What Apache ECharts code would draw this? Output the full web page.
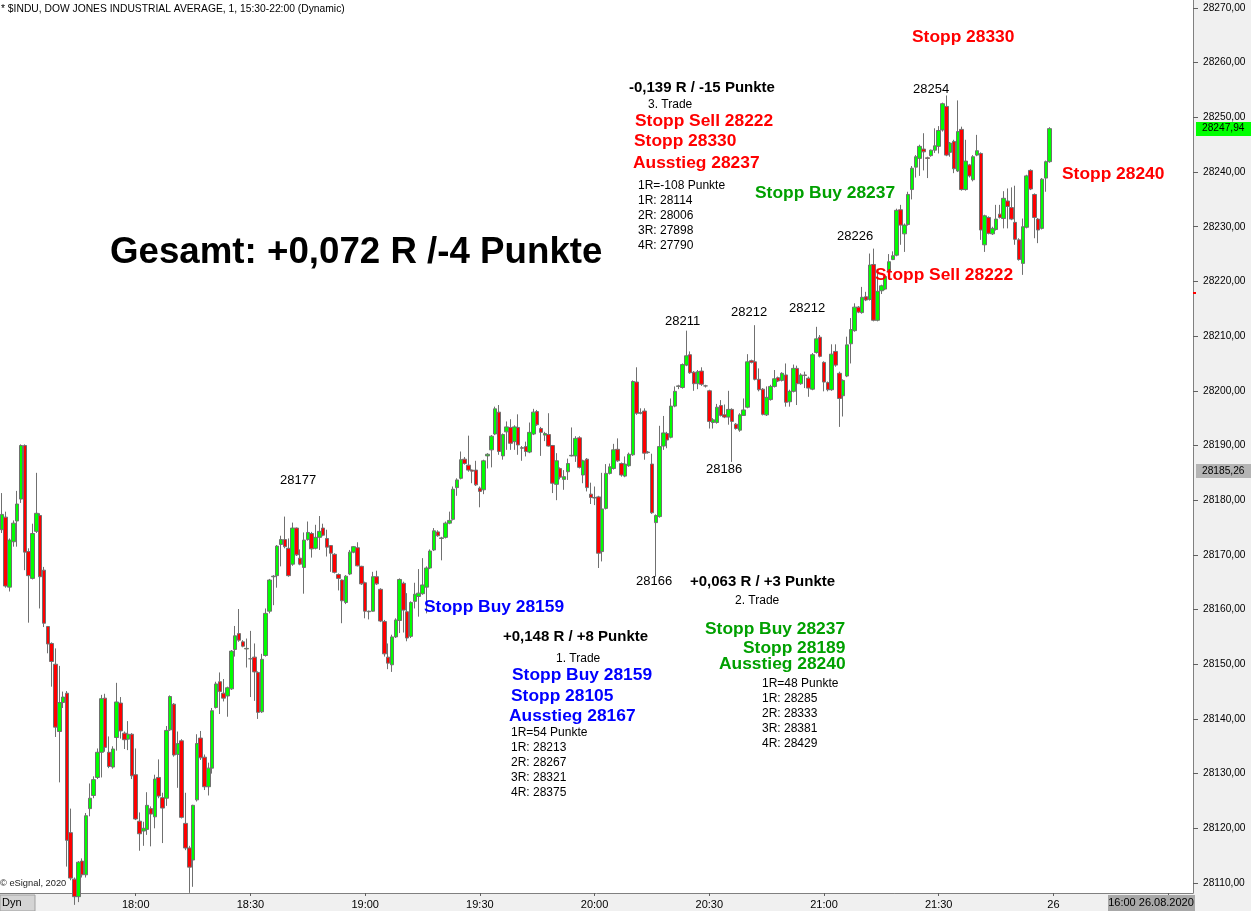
<!DOCTYPE html>
<html><head><meta charset="utf-8">
<script src="https://cdn.jsdelivr.net/npm/echarts@6/dist/echarts.min.js"></script>
<style>html,body{margin:0;padding:0;background:#f0f0f0}#c{width:1251px;height:911px}</style>
</head><body><div id="c"></div>
<script>
// ---- data ----
const startMinute = 17 * 60 + 25;   // first candle 17:25
const slotCount = 312;              // visible one-minute slots
// one-minute candles: [open, close, low, high]
const candles = [
[28174.6,28177.4,28174.0,28181.3],[28176.9,28164.3,28164.0,28177.9],[28164.1,28172.7,28163.3,28173.0],[28172.4,28175.8,28171.5,28176.3],
[28176.2,28179.3,28171.5,28181.7],[28180.2,28190.0,28179.5,28190.2],[28190.0,28170.5,28167.2,28190.2],[28170.6,28166.2,28157.6,28171.2],
[28165.7,28173.9,28165.5,28175.7],[28174.3,28177.6,28174.0,28185.0],[28177.2,28166.0,28160.2,28177.6],[28167.2,28157.5,28156.8,28167.8],
[28156.9,28153.7,28152.0,28157.0],[28153.8,28150.5,28145.9,28154.0],[28150.0,28138.5,28136.7,28152.9],[28137.7,28143.0,28128.4,28149.7],
[28143.0,28144.0,28142.0,28145.0],[28144.7,28117.8,28113.0,28145.1],[28119.2,28110.9,28110.5,28123.6],[28110.7,28107.5,28106.0,28111.0],
[28107.5,28113.8,28106.5,28114.0],[28114.0,28111.5,28111.0,28114.5],[28111.5,28122.3,28111.0,28122.8],[28123.6,28125.5,28122.2,28128.2],
[28126.0,28128.9,28125.5,28129.5],[28129.3,28133.9,28129.0,28134.6],[28133.9,28143.7,28129.3,28144.4],[28143.8,28134.8,28134.0,28144.6],
[28133.9,28131.3,28131.0,28136.8],[28131.2,28134.5,28130.9,28135.0],[28136.6,28143.1,28134.2,28146.6],[28142.9,28137.8,28136.4,28144.0],
[28137.4,28136.2,28134.5,28137.7],[28136.3,28137.2,28134.3,28139.6],[28137.2,28129.6,28129.0,28137.4],[28129.8,28121.7,28121.5,28134.6],
[28121.3,28119.0,28115.9,28122.9],[28119.5,28120.0,28116.8,28121.2],[28119.8,28124.2,28118.8,28126.6],[28123.6,28122.6,28116.7,28124.0],
[28122.1,28129.0,28120.0,28129.8],[28129.3,28125.9,28125.5,28132.6],[28125.6,28123.7,28117.3,28126.5],[28125.5,28137.9,28124.1,28138.7],
[28138.0,28144.1,28137.8,28144.3],[28142.7,28133.4,28133.1,28142.9],[28133.5,28135.5,28127.4,28137.7],[28136.0,28122.0,28121.8,28136.3],
[28120.9,28116.4,28116.0,28126.5],[28116.4,28112.9,28108.2,28116.8],[28114.2,28124.2,28109.3,28124.3],[28125.2,28135.5,28124.9,28137.2],
[28136.5,28132.9,28132.5,28137.8],[28133.0,28127.6,28127.0,28133.5],[28127.6,28131.0,28126.0,28132.0],[28131.0,28141.5,28130.0,28142.0],
[28142.1,28146.4,28141.9,28146.8],[28146.8,28145.0,28140.9,28148.5],[28144.7,28143.8,28143.2,28147.3],[28144.2,28145.7,28140.4,28145.9],
[28145.5,28152.4,28145.3,28152.6],[28152.7,28155.2,28151.4,28157.0],[28155.6,28154.4,28154.1,28160.1],[28154.1,28153.3,28153.1,28154.4],
[28152.8,28152.9,28149.4,28154.7],[28151.0,28151.0,28144.0,28156.1],[28151.3,28148.6,28143.3,28153.8],[28148.5,28141.2,28140.0,28148.7],
[28141.3,28150.9,28141.1,28151.9],[28151.6,28159.3,28151.4,28160.2],[28159.7,28165.4,28159.3,28165.6],[28166.0,28166.1,28160.8,28166.3],
[28166.2,28171.6,28164.0,28171.8],[28171.9,28172.8,28167.9,28173.5],[28172.8,28171.5,28171.2,28177.0],[28171.2,28166.2,28166.0,28173.0],
[28168.3,28174.9,28168.0,28175.9],[28174.9,28170.0,28169.8,28175.0],[28169.4,28168.3,28168.1,28171.0],[28167.7,28172.7,28162.9,28174.1],
[28172.8,28174.1,28172.6,28176.1],[28173.9,28171.1,28169.5,28174.2],[28171.2,28173.2,28171.0,28175.5],[28173.2,28174.3,28170.9,28177.1],
[28174.9,28173.6,28173.4,28175.7],[28173.0,28171.4,28169.7,28174.6],[28171.7,28170.3,28166.9,28171.8],[28170.1,28166.8,28166.6,28170.3],
[28166.4,28165.7,28163.5,28166.6],[28165.4,28161.6,28157.5,28165.5],[28161.3,28166.1,28161.0,28166.3],[28166.5,28170.5,28166.3,28170.9],
[28170.5,28171.5,28170.3,28171.6],[28171.3,28168.0,28167.9,28172.3],[28167.9,28164.7,28164.5,28168.0],[28164.9,28159.7,28158.4,28165.1],
[28159.6,28159.7,28158.2,28159.8],[28159.7,28166.0,28159.6,28166.9],[28166.0,28164.7,28164.5,28167.1],[28163.7,28157.9,28157.7,28163.9],
[28157.8,28151.9,28151.4,28158.1],[28151.3,28150.2,28149.1,28153.8],[28149.9,28155.0,28148.6,28155.4],[28155.0,28158.1,28154.8,28158.4],
[28158.0,28165.5,28155.7,28165.7],[28164.8,28159.9,28155.8,28165.1],[28159.6,28154.8,28154.2,28163.0],[28155.1,28161.3,28154.8,28161.5],
[28161.5,28162.8,28160.2,28164.9],[28162.4,28163.0,28158.7,28167.4],[28162.9,28164.5,28162.7,28169.4],[28164.1,28167.6,28159.3,28167.9],
[28167.6,28170.7,28167.4,28171.0],[28170.9,28174.4,28170.7,28174.9],[28174.2,28173.5,28173.3,28174.5],[28173.0,28173.1,28169.0,28173.3],
[28173.2,28175.8,28173.0,28176.1],[28175.8,28176.3,28175.6,28177.9],[28176.5,28182.0,28176.3,28182.5],[28182.3,28183.7,28180.8,28184.0],
[28184.0,28187.4,28183.8,28188.9],[28187.5,28186.7,28186.5,28187.9],[28186.4,28185.5,28185.2,28191.8],[28185.5,28185.3,28183.1,28185.6],
[28185.5,28182.8,28182.6,28187.2],[28182.2,28181.6,28178.7,28182.5],[28181.9,28187.2,28181.1,28187.4],[28188.1,28188.4,28185.8,28188.6],
[28189.2,28191.7,28186.0,28191.9],[28192.1,28196.7,28191.9,28197.1],[28196.1,28188.9,28188.3,28197.4],[28188.1,28192.0,28187.4,28192.2],
[28192.5,28193.4,28189.2,28194.4],[28193.3,28190.4,28189.2,28194.8],[28190.7,28193.4,28189.2,28193.7],[28193.3,28190.1,28188.3,28195.7],
[28189.6,28189.5,28187.2,28189.9],[28189.8,28188.9,28188.0,28190.7],[28188.8,28192.4,28188.6,28194.2],[28192.1,28196.1,28191.9,28196.7],
[28196.2,28193.8,28193.6,28196.5],[28193.1,28192.4,28188.1,28193.4],[28191.9,28192.2,28190.8,28192.5],[28192.0,28189.9,28189.8,28195.9],
[28190.0,28183.1,28181.3,28190.1],[28182.9,28187.2,28180.0,28188.6],[28185.8,28184.2,28183.8,28186.0],[28183.8,28184.3,28181.9,28185.5],
[28185.2,28186.7,28183.7,28187.6],[28188.1,28188.2,28188.0,28193.3],[28188.1,28191.3,28187.0,28191.7],[28191.4,28186.0,28185.8,28191.7],
[28184.6,28187.2,28183.1,28187.4],[28187.5,28182.3,28181.6,28187.7],[28181.1,28180.5,28179.3,28183.2],[28180.5,28180.4,28179.1,28182.5],
[28180.6,28170.3,28167.6,28180.8],[28170.6,28178.4,28168.8,28185.0],[28178.5,28184.9,28178.3,28186.6],[28184.9,28186.1,28184.7,28186.7],
[28185.8,28189.2,28185.6,28190.3],[28189.3,28187.2,28187.0,28191.3],[28186.7,28184.6,28184.3,28186.9],[28184.4,28186.6,28184.2,28188.0],
[28186.3,28188.4,28186.1,28188.7],[28188.3,28201.7,28188.1,28201.9],[28201.6,28195.9,28195.6,28204.3],[28195.9,28196.0,28195.7,28196.8],
[28196.3,28188.6,28187.4,28196.8],[28188.8,28188.7,28188.5,28189.0],[28186.6,28177.7,28177.5,28188.5],[28175.9,28177.2,28166.0,28177.4],
[28177.0,28189.8,28176.8,28193.6],[28189.9,28192.3,28189.2,28195.4],[28192.2,28191.0,28189.5,28192.5],[28191.5,28197.2,28191.3,28198.6],
[28197.2,28199.9,28197.0,28200.8],[28200.8,28200.9,28200.3,28201.1],[28200.6,28204.8,28200.4,28205.0],[28204.7,28206.4,28204.5,28211.0],
[28206.6,28203.3,28203.1,28207.2],[28203.4,28201.3,28200.0,28203.6],[28201.3,28203.5,28200.3,28203.8],[28203.6,28201.2,28200.9,28204.3],
[28200.9,28200.9,28200.6,28201.1],[28200.0,28194.4,28193.1,28200.2],[28194.2,28194.7,28193.1,28195.0],[28194.2,28197.0,28194.0,28197.6],
[28197.3,28195.5,28195.3,28198.3],[28195.6,28195.2,28195.0,28197.5],[28195.2,28196.6,28193.8,28200.0],[28196.6,28194.4,28187.0,28196.8],
[28193.9,28193.1,28192.9,28194.1],[28192.8,28195.6,28192.5,28195.9],[28195.5,28196.5,28195.4,28198.6],[28197.0,28205.3,28196.8,28206.7],
[28205.5,28205.2,28205.0,28205.7],[28205.3,28202.1,28201.9,28212.0],[28202.1,28200.2,28199.9,28204.1],[28200.3,28195.7,28195.5,28200.5],
[28195.6,28198.8,28195.4,28200.8],[28198.4,28200.8,28198.2,28201.1],[28200.8,28202.2,28200.6,28203.8],[28202.4,28201.8,28201.6,28202.6],
[28201.9,28203.2,28201.7,28203.4],[28202.9,28197.9,28197.1,28205.0],[28198.0,28199.9,28197.1,28200.2],[28199.9,28204.1,28199.7,28204.8],
[28204.1,28201.3,28197.4,28204.6],[28201.3,28202.9,28201.1,28203.2],[28202.9,28202.8,28200.5,28203.5],[28202.3,28200.5,28198.9,28202.6],
[28200.3,28206.6,28200.1,28206.9],[28207.0,28209.5,28206.8,28211.7],[28209.8,28206.3,28206.1,28210.2],[28205.2,28201.6,28199.9,28205.4],
[28201.5,28200.2,28199.9,28201.7],[28200.2,28206.7,28200.0,28208.5],[28207.2,28204.7,28204.4,28208.5],[28203.2,28198.6,28193.4,28203.5],
[28199.1,28201.9,28195.3,28202.1],[28202.7,28208.4,28202.5,28209.9],[28208.6,28211.2,28205.0,28213.3],[28211.0,28215.3,28210.8,28216.0],
[28215.3,28214.4,28214.2,28215.5],[28214.3,28217.1,28214.1,28219.0],[28217.2,28216.6,28216.4,28218.1],[28216.7,28223.0,28216.5,28225.1],
[28223.1,28212.9,28212.7,28226.0],[28212.9,28218.2,28212.7,28221.5],[28218.3,28219.2,28217.7,28219.4],[28218.6,28220.9,28218.4,28221.2],
[28221.8,28223.6,28220.9,28225.0],[28224.0,28224.7,28223.9,28225.5],[28224.8,28233.0,28224.6,28233.3],[28233.1,28230.3,28226.7,28234.0],
[28228.7,28230.3,28225.4,28230.6],[28230.4,28235.9,28230.2,28236.4],[28236.8,28240.7,28235.0,28241.1],[28240.9,28242.8,28239.0,28243.1],
[28242.5,28244.7,28239.3,28245.0],[28244.2,28243.7,28240.3,28247.1],[28242.6,28242.5,28238.9,28242.8],[28243.0,28244.0,28242.8,28244.1],
[28244.0,28244.8,28243.5,28248.0],[28244.7,28247.6,28243.4,28248.4],[28247.7,28252.5,28247.4,28252.7],[28252.0,28243.1,28242.9,28254.0],
[28243.6,28245.3,28242.8,28245.5],[28245.6,28240.6,28239.8,28245.9],[28240.2,28247.4,28240.0,28253.1],[28247.8,28236.8,28236.6,28248.3],
[28236.8,28242.0,28236.6,28245.9],[28241.3,28239.3,28239.0,28241.5],[28238.6,28242.8,28238.3,28243.1],[28243.1,28243.9,28242.9,28246.8],
[28243.4,28229.4,28227.6,28243.6],[28226.7,28232.0,28225.4,28232.2],[28231.7,28228.8,28228.6,28231.9],[28228.7,28229.7,28228.5,28230.0],
[28229.5,28231.4,28229.3,28234.0],[28232.3,28231.7,28231.5,28234.0],[28231.5,28235.2,28229.7,28236.5],[28234.7,28233.7,28229.7,28237.0],
[28233.5,28231.4,28231.2,28237.2],[28230.8,28227.7,28226.7,28237.5],[28227.6,28224.0,28223.8,28227.9],[28223.3,28230.0,28221.2,28231.5],
[28229.9,28239.3,28229.7,28239.5],[28240.3,28236.9,28236.7,28240.5],[28235.9,28231.7,28227.9,28236.1],[28231.4,28229.4,28227.0,28231.6],
[28229.7,28238.7,28229.5,28238.9],[28238.9,28241.9,28236.4,28242.1],[28241.9,28247.94,28241.7,28248.2]
];
const lastClose = 28247.94;
const refPrice = 28185.26;
const yMin = 28108.17;
const yMax = 28271.46;

const titleText = '* $INDU, DOW JONES INDUSTRIAL AVERAGE, 1, 15:30-22:00 (Dynamic)';
// annotations: [text, kind]
const notes = [
  ['Gesamt: +0,072 R /-4 Punkte','big'],
  ['Stopp 28330','red'],
  ['-0,139 R / -15 Punkte','blk'],
  ['3. Trade','sm'],
  ['Stopp Sell 28222','red'],
  ['Stopp 28330','red'],
  ['Ausstieg 28237','red'],
  ['1R=-108 Punkte','sm'],['1R: 28114','sm'],['2R: 28006','sm'],['3R: 27898','sm'],['4R: 27790','sm'],
  ['28254','px'],
  ['Stopp Buy 28237','grn'],
  ['Stopp 28240','red'],
  ['28226','px'],
  ['Stopp Sell 28222','red'],
  ['28211','px'],['28212','px'],['28212','px'],['28186','px'],['28177','px'],['28166','px'],
  ['+0,063 R / +3 Punkte','blk'],
  ['2. Trade','sm'],
  ['Stopp Buy 28237','grn'],
  ['Stopp 28189','grn'],
  ['Ausstieg 28240','grn'],
  ['1R=48 Punkte','sm'],['1R: 28285','sm'],['2R: 28333','sm'],['3R: 28381','sm'],['4R: 28429','sm'],
  ['Stopp Buy 28159','blu'],
  ['+0,148 R / +8 Punkte','blk'],
  ['1. Trade','sm'],
  ['Stopp Buy 28159','blu'],
  ['Stopp 28105','blu'],
  ['Ausstieg 28167','blu'],
  ['1R=54 Punkte','sm'],['1R: 28213','sm'],['2R: 28267','sm'],['3R: 28321','sm'],['4R: 28375','sm']
];
// pixel placement of the annotations (x left, y middle)
const notePos = [
  [110,253],[912,37],[629,88],[648,105],[635,121],[634,141],[633,163],
  [638,186],[638,201],[638,216],[638,231],[638,246],
  [913,89],[755,193],[1062,174],[837,236],[875,275],
  [665,321],[731,312],[789,308],[706,469],[280,480],[636,581],
  [690,582],[735,601],[705,629],[743,648],[719,664],
  [762,684],[762,699],[762,714],[762,729],[762,744],
  [424,607],[503,637],[556,659],[512,675],[511,696],[509,716],
  [511,733],[511,748],[511,763],[511,778],[511,793]
];

// ---- chart ----
const FONT = '"Liberation Sans", Arial, sans-serif';
const styles = {
  big: {font: 'bold 36.7px ' + FONT, fill: '#000'},
  red: {font: 'bold 17.4px ' + FONT, fill: '#ff0000'},
  grn: {font: 'bold 17.4px ' + FONT, fill: '#00a000'},
  blu: {font: 'bold 17.4px ' + FONT, fill: '#0000ff'},
  blk: {font: 'bold 15px ' + FONT, fill: '#000'},
  sm:  {font: '12px ' + FONT, fill: '#000'},
  px:  {font: '13px ' + FONT, fill: '#000'}
};

const cats = [];
for (let i = 0; i < slotCount; i++) {
  const m = startMinute + i;
  const h = Math.floor(m / 60) % 24, mm = m % 60;
  cats.push(String(h).padStart(2,'0') + ':' + String(mm).padStart(2,'0'));
}
const seriesData = [];
for (let i = 0; i < slotCount; i++) seriesData.push(i < candles.length ? candles[i] : '-');

function showTick(idx) {
  const m = startMinute + idx;
  return m % 30 === 0 && m >= 18 * 60;
}
const fmt = (v) => v.toFixed(2).replace('.', ',');

const baseGraphics = notes.map((n, i) => ({
  type: 'text', x: notePos[i][0], y: notePos[i][1], z: 100,
  style: Object.assign({text: n[0], verticalAlign: 'middle', align: 'left'}, styles[n[1]])
}));
baseGraphics.push(
  {type: 'text', x: 1, y: 9, z: 100, style: {text: titleText, font: '10.3px ' + FONT, fill: '#000', verticalAlign: 'middle'}},
  {type: 'text', x: 0, y: 883, z: 100, style: {text: '\u00a9 eSignal, 2020', font: '9.3px ' + FONT, fill: '#222', verticalAlign: 'middle'}},
  {type: 'rect', shape: {x: 0, y: 895, width: 35, height: 16}, z: 100, style: {fill: '#d4d4d4', stroke: '#a0a0a0'}},
  {type: 'text', x: 2, y: 903, z: 101, style: {text: 'Dyn', font: '11px ' + FONT, fill: '#000', verticalAlign: 'middle'}},
  {type: 'rect', shape: {x: 1108, y: 895, width: 87, height: 16}, z: 100, style: {fill: '#a8a8a8'}},
  {type: 'text', x: 1151, y: 903, z: 101, style: {text: '16:00 26.08.2020', font: '11px ' + FONT, fill: '#000', align: 'center', verticalAlign: 'middle'}}
);

const chart = echarts.init(document.getElementById('c'), null, {renderer: 'canvas'});
chart.setOption({
  animation: false,
  backgroundColor: '#f0f0f0',
  grid: {left: 0, right: 58, top: 0, bottom: 18, show: true, backgroundColor: '#ffffff', borderWidth: 0},
  xAxis: {
    type: 'category', data: cats, boundaryGap: true,
    axisLine: {lineStyle: {color: '#808080'}},
    axisTick: {show: true, alignWithLabel: true, length: 3, interval: (i) => showTick(i), lineStyle: {color: '#606060'}},
    axisLabel: {interval: (i) => showTick(i), margin: 6, fontSize: 11, fontFamily: FONT, color: '#000',
      formatter: (v) => v === '22:00' ? '26' : v},
    splitLine: {show: false}
  },
  yAxis: {
    type: 'value', position: 'right', min: yMin, max: yMax, splitNumber: 16, scale: true,
    axisLine: {show: true, lineStyle: {color: '#808080'}},
    axisTick: {show: true, length: 5, lineStyle: {color: '#606060'}},
    axisLabel: {showMinLabel: false, showMaxLabel: false, margin: 10, fontSize: 10.2, fontFamily: FONT, color: '#000',
      formatter: fmt},
    splitLine: {show: false}
  },
  series: [{
    type: 'candlestick', data: seriesData, barWidth: 4,
    itemStyle: {color: '#00ff00', color0: '#ff0000', borderColor: '#707070', borderColor0: '#707070', borderColorDoji: '#707070', borderWidth: 1}
  }],
  graphic: baseGraphics
});

// price tags on the right axis, placed through the axis scale
const yLast = chart.convertToPixel({yAxisIndex: 0}, lastClose);
const yRef = chart.convertToPixel({yAxisIndex: 0}, refPrice);
const tagGraphics = [
  {type: 'rect', shape: {x: 1196, y: Math.round(yLast) - 7, width: 55, height: 14}, z: 110, style: {fill: '#00ff00'}},
  {type: 'text', x: 1202, y: yLast, z: 111, style: {text: fmt(lastClose), font: '10.2px ' + FONT, fill: '#000', verticalAlign: 'middle'}},
  {type: 'rect', shape: {x: 1196, y: Math.round(yRef) - 7, width: 55, height: 14}, z: 110, style: {fill: '#b4b4b4'}},
  {type: 'text', x: 1202, y: yRef, z: 111, style: {text: fmt(refPrice), font: '10.2px ' + FONT, fill: '#000', verticalAlign: 'middle'}},
  {type: 'rect', shape: {x: 1193, y: 292, width: 3, height: 2}, z: 110, style: {fill: '#ff0000'}}
];
chart.setOption({graphic: baseGraphics.concat(tagGraphics)});
</script>
</body></html>
